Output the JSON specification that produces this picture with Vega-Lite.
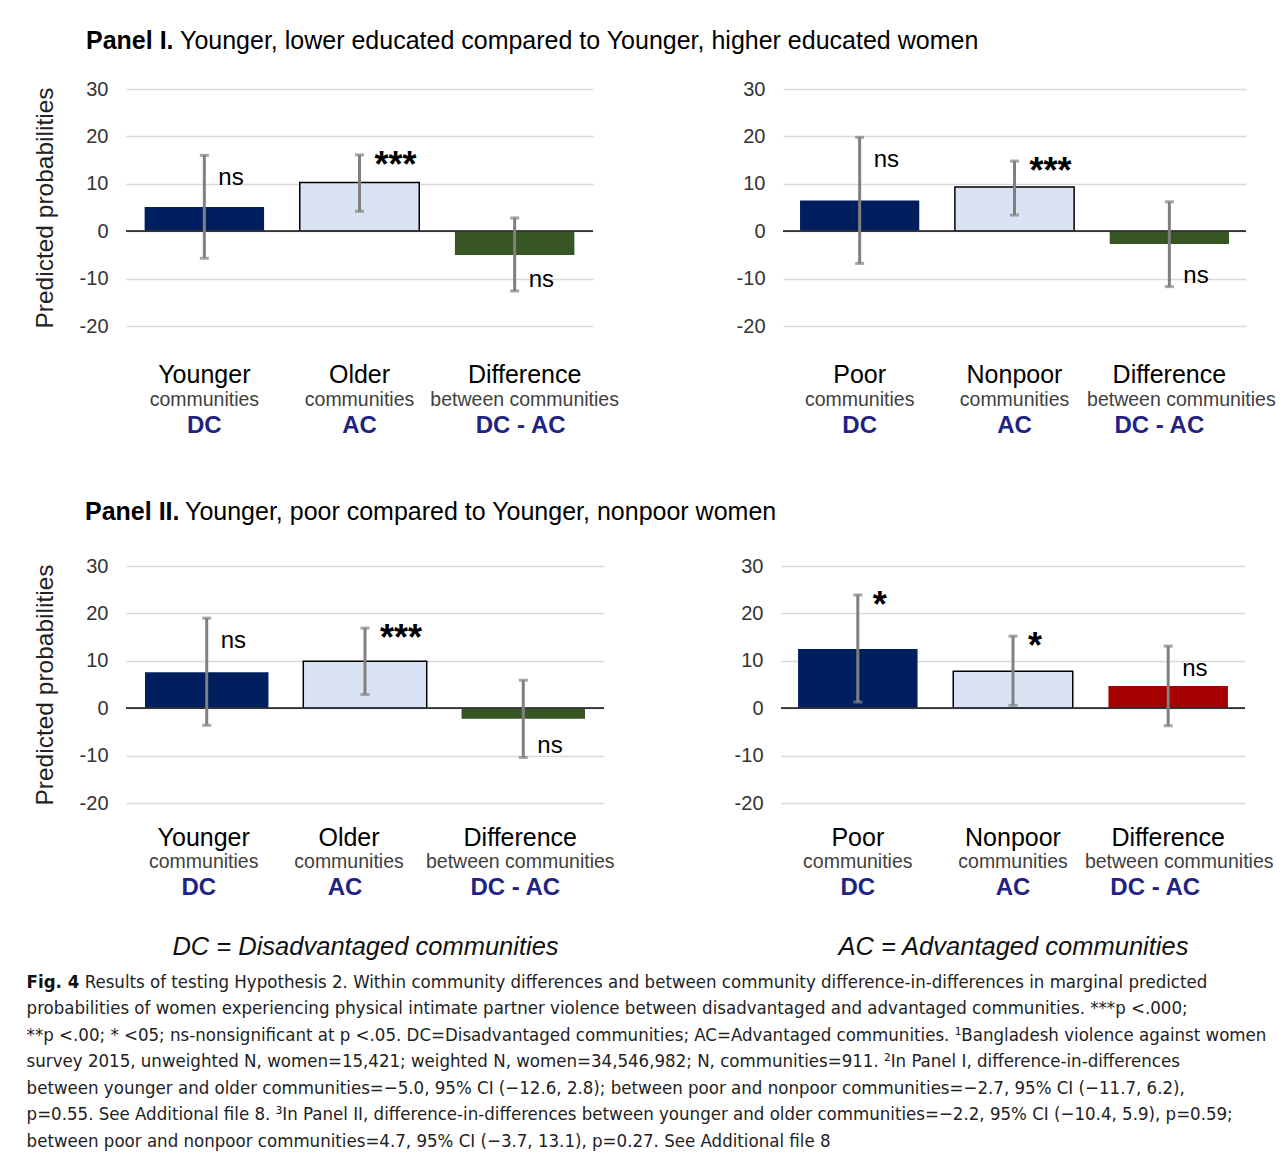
{
  "$schema": "https://vega.github.io/schema/vega-lite/v6.json",
  "padding": {"left": 26, "top": 29, "right": 5, "bottom": 5},
  "background": "#ffffff",
  "datasets": {
    "bars": [
      {"panel": "I-L", "community": "Younger", "kind": "DC", "value": 5.1, "lo": -5.7, "hi": 16.0, "sig": "ns"},
      {"panel": "I-L", "community": "Older", "kind": "AC", "value": 10.3, "lo": 4.2, "hi": 16.1, "sig": "***"},
      {"panel": "I-L", "community": "Difference", "kind": "Decrease", "value": -5.0, "lo": -12.6, "hi": 2.8, "sig": "ns"},
      {"panel": "I-R", "community": "Poor", "kind": "DC", "value": 6.5, "lo": -6.8, "hi": 19.8, "sig": "ns"},
      {"panel": "I-R", "community": "Nonpoor", "kind": "AC", "value": 9.3, "lo": 3.4, "hi": 14.8, "sig": "***"},
      {"panel": "I-R", "community": "Difference", "kind": "Decrease", "value": -2.7, "lo": -11.7, "hi": 6.2, "sig": "ns"},
      {"panel": "II-L", "community": "Younger", "kind": "DC", "value": 7.6, "lo": -3.6, "hi": 19.0, "sig": "ns"},
      {"panel": "II-L", "community": "Older", "kind": "AC", "value": 9.9, "lo": 2.9, "hi": 16.9, "sig": "***"},
      {"panel": "II-L", "community": "Difference", "kind": "Decrease", "value": -2.2, "lo": -10.4, "hi": 5.9, "sig": "ns"},
      {"panel": "II-R", "community": "Poor", "kind": "DC", "value": 12.5, "lo": 1.3, "hi": 23.9, "sig": "*"},
      {"panel": "II-R", "community": "Nonpoor", "kind": "AC", "value": 7.8, "lo": 0.6, "hi": 15.2, "sig": "*"},
      {"panel": "II-R", "community": "Difference", "kind": "Increase", "value": 4.7, "lo": -3.7, "hi": 13.1, "sig": "ns"}
    ]
  },
  "vconcat": [
    {
      "hconcat": [
        {
          "data": {"name": "bars"},
          "transform": [{"filter": "datum.panel === 'I-L'"}],
          "width": 467, "height": 237,
          "title": {"text": "Panel I.", "fontWeight": "bold", "fontSize": 25, "anchor": "start", "frame": "group", "dx": -40, "offset": 25, "color": "#000"},
          "layer": [
            {"mark": {"type": "bar", "stroke": "#000"},
             "encoding": {
               "x": {"field": "community", "type": "nominal", "sort": null, "scale": {"paddingInner": 0.23, "paddingOuter": 0.12},
                     "axis": {"orient": "bottom", "labelFontSize": 25, "labelColor": "#000", "labelPadding": 36, "labelOffset": {"condition": {"test": "datum.value === 'Difference'", "value": 10}, "value": 0}, "domain": false, "ticks": false, "title": null, "labelAngle": 0, "labelOverlap": false, "labelLimit": 400}},
               "y": {"field": "value", "type": "quantitative", "scale": {"domain": [-20, 30]},
                     "axis": {"orient": "left", "values": [-20, -10, 0, 10, 20, 30], "labelExpr": "'' + datum.value", "labelFontSize": 20, "labelColor": "#333", "labelPadding": 18, "domain": false, "ticks": false, "grid": true, "gridColor": "#d9d9d9", "gridWidth": 1.5, "title": "Predicted probabilities", "titleFontSize": 24.5, "titleFontWeight": "normal", "titleColor": "#222", "titlePadding": 22}},
               "color": {"field": "kind", "type": "nominal", "scale": {"domain": ["DC", "AC", "Decrease", "Increase"], "range": ["#001f5f", "#dae3f3", "#375623", "#a50000"]}, "legend": null},
               "strokeWidth": {"condition": {"test": "datum.kind === 'AC'", "value": 1.5}, "value": 0}
             }},
            {"mark": {"type": "rule", "color": "#333", "strokeWidth": 1.5}, "encoding": {"y": {"datum": 0, "type": "quantitative", "axis": {"title": "Predicted probabilities"}}}},
            {"mark": {"type": "rule", "color": "#808080", "strokeWidth": 3},
             "encoding": {
               "x": {"field": "community", "type": "nominal", "sort": null,
                     "axis": {"orient": "bottom", "labelExpr": "datum.value === 'Difference' ? 'between communities' : 'communities'", "labelFontSize": 19.5, "labelColor": "#404040", "labelPadding": 64, "labelOffset": {"condition": {"test": "datum.value === 'Difference'", "value": 10}, "value": 0}, "domain": false, "ticks": false, "title": null, "labelAngle": 0, "labelOverlap": false, "labelLimit": 400}},
               "y": {"field": "lo", "type": "quantitative", "axis": {"title": "Predicted probabilities"}},
               "y2": {"field": "hi"}
             }},
            {"mark": {"type": "tick", "color": "#808080", "thickness": 3, "size": 9},
             "encoding": {
               "x": {"field": "community", "type": "nominal", "sort": null,
                     "axis": {"orient": "bottom", "labelExpr": "datum.value === 'Difference' ? 'DC - AC' : (datum.value === 'Younger' || datum.value === 'Poor') ? 'DC' : 'AC'", "labelFontSize": 24, "labelFontWeight": "bold", "labelColor": "#1f2383", "labelPadding": 87, "labelOffset": {"condition": {"test": "datum.value === 'Difference'", "value": 6}, "value": 0}, "domain": false, "ticks": false, "title": null, "labelAngle": 0, "labelOverlap": false, "labelLimit": 400}},
               "y": {"field": "lo", "type": "quantitative", "axis": {"title": "Predicted probabilities"}}
             }},
            {"mark": {"type": "tick", "color": "#808080", "thickness": 3, "size": 9},
             "encoding": {"x": {"field": "community", "type": "nominal", "sort": null, "axis": null}, "y": {"field": "hi", "type": "quantitative", "axis": {"title": "Predicted probabilities"}}}},
            {"transform": [{"filter": "datum.sig === 'ns' && datum.value >= 0"}],
             "mark": {"type": "text", "align": "left", "baseline": "top", "dx": 14, "dy": 11, "fontSize": 24, "color": "#000"},
             "encoding": {"x": {"field": "community", "type": "nominal", "sort": null, "axis": null}, "y": {"field": "hi", "type": "quantitative", "axis": {"title": "Predicted probabilities"}}, "text": {"field": "sig"}}},
            {"transform": [{"filter": "datum.sig !== 'ns'"}],
             "mark": {"type": "text", "align": "left", "baseline": "top", "dx": 15, "dy": -6, "fontSize": 36, "fontWeight": "bold", "color": "#000"},
             "encoding": {"x": {"field": "community", "type": "nominal", "sort": null, "axis": null}, "y": {"field": "hi", "type": "quantitative", "axis": {"title": "Predicted probabilities"}}, "text": {"field": "sig"}}},
            {"transform": [{"filter": "datum.sig === 'ns' && datum.value < 0"}],
             "mark": {"type": "text", "align": "left", "baseline": "alphabetic", "dx": 14, "dy": -4, "fontSize": 24, "color": "#000"},
             "encoding": {"x": {"field": "community", "type": "nominal", "sort": null, "axis": null}, "y": {"field": "lo", "type": "quantitative", "axis": {"title": "Predicted probabilities"}}, "text": {"field": "sig"}}}
          ],
          "resolve": {"axis": {"x": "independent"}}
        },
        {
          "data": {"name": "bars"},
          "transform": [{"filter": "datum.panel === 'I-R'"}],
          "width": 463, "height": 237,
          "title": {"text": "Younger, lower educated compared to Younger, higher educated women", "fontWeight": "normal", "fontSize": 25, "anchor": "start", "frame": "group", "dx": -603, "offset": 25, "color": "#000"},
          "layer": [
            {"mark": {"type": "bar", "stroke": "#000"},
             "encoding": {
               "x": {"field": "community", "type": "nominal", "sort": null, "scale": {"paddingInner": 0.23, "paddingOuter": 0.11},
                     "axis": {"orient": "bottom", "labelFontSize": 25, "labelColor": "#000", "labelPadding": 36, "domain": false, "ticks": false, "title": null, "labelAngle": 0, "labelOverlap": false, "labelLimit": 400}},
               "y": {"field": "value", "type": "quantitative", "scale": {"domain": [-20, 30]},
                     "axis": {"orient": "left", "values": [-20, -10, 0, 10, 20, 30], "labelExpr": "'' + datum.value", "labelFontSize": 20, "labelColor": "#333", "labelPadding": 18, "domain": false, "ticks": false, "grid": true, "gridColor": "#d9d9d9", "gridWidth": 1.5, "title": null}},
               "color": {"field": "kind", "type": "nominal", "scale": {"domain": ["DC", "AC", "Decrease", "Increase"], "range": ["#001f5f", "#dae3f3", "#375623", "#a50000"]}, "legend": null},
               "strokeWidth": {"condition": {"test": "datum.kind === 'AC'", "value": 1.5}, "value": 0}
             }},
            {"mark": {"type": "rule", "color": "#333", "strokeWidth": 1.5}, "encoding": {"y": {"datum": 0, "type": "quantitative", "axis": {"title": null}}}},
            {"mark": {"type": "rule", "color": "#808080", "strokeWidth": 3},
             "encoding": {
               "x": {"field": "community", "type": "nominal", "sort": null,
                     "axis": {"orient": "bottom", "labelExpr": "datum.value === 'Difference' ? 'between communities' : 'communities'", "labelFontSize": 19.5, "labelColor": "#404040", "labelPadding": 64, "labelOffset": {"condition": {"test": "datum.value === 'Difference'", "value": 12}, "value": 0}, "domain": false, "ticks": false, "title": null, "labelAngle": 0, "labelOverlap": false, "labelLimit": 400}},
               "y": {"field": "lo", "type": "quantitative", "axis": {"title": null}},
               "y2": {"field": "hi"}
             }},
            {"mark": {"type": "tick", "color": "#808080", "thickness": 3, "size": 9},
             "encoding": {
               "x": {"field": "community", "type": "nominal", "sort": null,
                     "axis": {"orient": "bottom", "labelExpr": "datum.value === 'Difference' ? 'DC - AC' : (datum.value === 'Younger' || datum.value === 'Poor') ? 'DC' : 'AC'", "labelFontSize": 24, "labelFontWeight": "bold", "labelColor": "#1f2383", "labelPadding": 87, "labelOffset": {"condition": {"test": "datum.value === 'Difference'", "value": -10}, "value": 0}, "domain": false, "ticks": false, "title": null, "labelAngle": 0, "labelOverlap": false, "labelLimit": 400}},
               "y": {"field": "lo", "type": "quantitative", "axis": {"title": null}}
             }},
            {"mark": {"type": "tick", "color": "#808080", "thickness": 3, "size": 9},
             "encoding": {"x": {"field": "community", "type": "nominal", "sort": null, "axis": null}, "y": {"field": "hi", "type": "quantitative", "axis": {"title": null}}}},
            {"transform": [{"filter": "datum.sig === 'ns' && datum.value >= 0"}],
             "mark": {"type": "text", "align": "left", "baseline": "top", "dx": 14, "dy": 11, "fontSize": 24, "color": "#000"},
             "encoding": {"x": {"field": "community", "type": "nominal", "sort": null, "axis": null}, "y": {"field": "hi", "type": "quantitative", "axis": {"title": null}}, "text": {"field": "sig"}}},
            {"transform": [{"filter": "datum.sig !== 'ns'"}],
             "mark": {"type": "text", "align": "left", "baseline": "top", "dx": 15, "dy": -6, "fontSize": 36, "fontWeight": "bold", "color": "#000"},
             "encoding": {"x": {"field": "community", "type": "nominal", "sort": null, "axis": null}, "y": {"field": "hi", "type": "quantitative", "axis": {"title": null}}, "text": {"field": "sig"}}},
            {"transform": [{"filter": "datum.sig === 'ns' && datum.value < 0"}],
             "mark": {"type": "text", "align": "left", "baseline": "alphabetic", "dx": 14, "dy": -4, "fontSize": 24, "color": "#000"},
             "encoding": {"x": {"field": "community", "type": "nominal", "sort": null, "axis": null}, "y": {"field": "lo", "type": "quantitative", "axis": {"title": null}}, "text": {"field": "sig"}}}
          ],
          "resolve": {"axis": {"x": "independent"}}
        }
      ],
      "spacing": 190,
      "bounds": "flush"
    },
    {
      "hconcat": [
        {
          "data": {"name": "bars"},
          "transform": [{"filter": "datum.panel === 'II-L'"}],
          "width": 478, "height": 237,
          "title": {"text": "Panel II.", "fontWeight": "bold", "fontSize": 25, "anchor": "start", "frame": "group", "dx": -41, "offset": 31, "color": "#000"},
          "layer": [
            {"mark": {"type": "bar", "stroke": "#000"},
             "encoding": {
               "x": {"field": "community", "type": "nominal", "sort": null, "scale": {"paddingInner": 0.22, "paddingOuter": 0.12},
                     "axis": {"orient": "bottom", "labelFontSize": 25, "labelColor": "#000", "labelPadding": 22, "labelOffset": {"condition": {"test": "datum.value === 'Older'", "value": -16}, "value": -3}, "domain": false, "ticks": false, "title": null, "labelAngle": 0, "labelOverlap": false, "labelLimit": 400}},
               "y": {"field": "value", "type": "quantitative", "scale": {"domain": [-20, 30]},
                     "axis": {"orient": "left", "values": [-20, -10, 0, 10, 20, 30], "labelExpr": "'' + datum.value", "labelFontSize": 20, "labelColor": "#333", "labelPadding": 18, "domain": false, "ticks": false, "grid": true, "gridColor": "#d9d9d9", "gridWidth": 1.5, "title": "Predicted probabilities", "titleFontSize": 24.5, "titleFontWeight": "normal", "titleColor": "#222", "titlePadding": 22}},
               "color": {"field": "kind", "type": "nominal", "scale": {"domain": ["DC", "AC", "Decrease", "Increase"], "range": ["#001f5f", "#dae3f3", "#375623", "#a50000"]}, "legend": null},
               "strokeWidth": {"condition": {"test": "datum.kind === 'AC'", "value": 1.5}, "value": 0}
             }},
            {"mark": {"type": "rule", "color": "#333", "strokeWidth": 1.5}, "encoding": {"y": {"datum": 0, "type": "quantitative", "axis": {"title": "Predicted probabilities"}}}},
            {"mark": {"type": "rule", "color": "#808080", "strokeWidth": 3},
             "encoding": {
               "x": {"field": "community", "type": "nominal", "sort": null,
                     "axis": {"orient": "bottom", "labelExpr": "datum.value === 'Difference' ? 'between communities' : 'communities'", "labelFontSize": 19.5, "labelColor": "#404040", "labelPadding": 49, "labelOffset": {"condition": {"test": "datum.value === 'Older'", "value": -16}, "value": -3}, "domain": false, "ticks": false, "title": null, "labelAngle": 0, "labelOverlap": false, "labelLimit": 400}},
               "y": {"field": "lo", "type": "quantitative", "axis": {"title": "Predicted probabilities"}},
               "y2": {"field": "hi"}
             }},
            {"mark": {"type": "tick", "color": "#808080", "thickness": 3, "size": 9},
             "encoding": {
               "x": {"field": "community", "type": "nominal", "sort": null,
                     "axis": {"orient": "bottom", "labelExpr": "datum.value === 'Difference' ? 'DC - AC' : (datum.value === 'Younger' || datum.value === 'Poor') ? 'DC' : 'AC'", "labelFontSize": 24, "labelFontWeight": "bold", "labelColor": "#1f2383", "labelPadding": 72, "labelOffset": {"condition": {"test": "datum.value === 'Older'", "value": -20}, "value": -8}, "domain": false, "ticks": false, "labelAngle": 0, "labelOverlap": false, "labelLimit": 400,
                              "title": "DC = Disadvantaged communities", "titleFontSize": 25.5, "titleFontStyle": "italic", "titleFontWeight": "normal", "titleColor": "#111", "titlePadding": 35}},
               "y": {"field": "lo", "type": "quantitative", "axis": {"title": "Predicted probabilities"}}
             }},
            {"mark": {"type": "tick", "color": "#808080", "thickness": 3, "size": 9},
             "encoding": {"x": {"field": "community", "type": "nominal", "sort": null, "axis": null}, "y": {"field": "hi", "type": "quantitative", "axis": {"title": "Predicted probabilities"}}}},
            {"transform": [{"filter": "datum.sig === 'ns' && datum.value >= 0"}],
             "mark": {"type": "text", "align": "left", "baseline": "top", "dx": 14, "dy": 11, "fontSize": 24, "color": "#000"},
             "encoding": {"x": {"field": "community", "type": "nominal", "sort": null, "axis": null}, "y": {"field": "hi", "type": "quantitative", "axis": {"title": "Predicted probabilities"}}, "text": {"field": "sig"}}},
            {"transform": [{"filter": "datum.sig !== 'ns'"}],
             "mark": {"type": "text", "align": "left", "baseline": "top", "dx": 15, "dy": -6, "fontSize": 36, "fontWeight": "bold", "color": "#000"},
             "encoding": {"x": {"field": "community", "type": "nominal", "sort": null, "axis": null}, "y": {"field": "hi", "type": "quantitative", "axis": {"title": "Predicted probabilities"}}, "text": {"field": "sig"}}},
            {"transform": [{"filter": "datum.sig === 'ns' && datum.value < 0"}],
             "mark": {"type": "text", "align": "left", "baseline": "alphabetic", "dx": 14, "dy": -4, "fontSize": 24, "color": "#000"},
             "encoding": {"x": {"field": "community", "type": "nominal", "sort": null, "axis": null}, "y": {"field": "lo", "type": "quantitative", "axis": {"title": "Predicted probabilities"}}, "text": {"field": "sig"}}}
          ],
          "resolve": {"axis": {"x": "independent"}}
        },
        {
          "data": {"name": "bars"},
          "transform": [{"filter": "datum.panel === 'II-R'"}],
          "width": 464, "height": 237,
          "title": {"text": "Younger, poor compared to Younger, nonpoor women", "fontWeight": "normal", "fontSize": 25, "anchor": "start", "frame": "group", "dx": -596, "offset": 31, "color": "#000"},
          "layer": [
            {"mark": {"type": "bar", "stroke": "#000"},
             "encoding": {
               "x": {"field": "community", "type": "nominal", "sort": null, "scale": {"paddingInner": 0.23, "paddingOuter": 0.11},
                     "axis": {"orient": "bottom", "labelFontSize": 25, "labelColor": "#000", "labelPadding": 22, "domain": false, "ticks": false, "title": null, "labelAngle": 0, "labelOverlap": false, "labelLimit": 400}},
               "y": {"field": "value", "type": "quantitative", "scale": {"domain": [-20, 30]},
                     "axis": {"orient": "left", "values": [-20, -10, 0, 10, 20, 30], "labelExpr": "'' + datum.value", "labelFontSize": 20, "labelColor": "#333", "labelPadding": 18, "domain": false, "ticks": false, "grid": true, "gridColor": "#d9d9d9", "gridWidth": 1.5, "title": null}},
               "color": {"field": "kind", "type": "nominal", "scale": {"domain": ["DC", "AC", "Decrease", "Increase"], "range": ["#001f5f", "#dae3f3", "#375623", "#a50000"]}, "legend": null},
               "strokeWidth": {"condition": {"test": "datum.kind === 'AC'", "value": 1.5}, "value": 0}
             }},
            {"mark": {"type": "rule", "color": "#333", "strokeWidth": 1.5}, "encoding": {"y": {"datum": 0, "type": "quantitative", "axis": {"title": null}}}},
            {"mark": {"type": "rule", "color": "#808080", "strokeWidth": 3},
             "encoding": {
               "x": {"field": "community", "type": "nominal", "sort": null,
                     "axis": {"orient": "bottom", "labelExpr": "datum.value === 'Difference' ? 'between communities' : 'communities'", "labelFontSize": 19.5, "labelColor": "#404040", "labelPadding": 49, "labelOffset": {"condition": {"test": "datum.value === 'Difference'", "value": 11}, "value": 0}, "domain": false, "ticks": false, "title": null, "labelAngle": 0, "labelOverlap": false, "labelLimit": 400}},
               "y": {"field": "lo", "type": "quantitative", "axis": {"title": null}},
               "y2": {"field": "hi"}
             }},
            {"mark": {"type": "tick", "color": "#808080", "thickness": 3, "size": 9},
             "encoding": {
               "x": {"field": "community", "type": "nominal", "sort": null,
                     "axis": {"orient": "bottom", "labelExpr": "datum.value === 'Difference' ? 'DC - AC' : (datum.value === 'Younger' || datum.value === 'Poor') ? 'DC' : 'AC'", "labelFontSize": 24, "labelFontWeight": "bold", "labelColor": "#1f2383", "labelPadding": 72, "labelOffset": {"condition": {"test": "datum.value === 'Difference'", "value": -13}, "value": 0}, "domain": false, "ticks": false, "labelAngle": 0, "labelOverlap": false, "labelLimit": 400,
                              "title": "AC = Advantaged communities", "titleFontSize": 25.5, "titleFontStyle": "italic", "titleFontWeight": "normal", "titleColor": "#111", "titlePadding": 35}},
               "y": {"field": "lo", "type": "quantitative", "axis": {"title": null}}
             }},
            {"mark": {"type": "tick", "color": "#808080", "thickness": 3, "size": 9},
             "encoding": {"x": {"field": "community", "type": "nominal", "sort": null, "axis": null}, "y": {"field": "hi", "type": "quantitative", "axis": {"title": null}}}},
            {"transform": [{"filter": "datum.sig === 'ns' && datum.value >= 0"}],
             "mark": {"type": "text", "align": "left", "baseline": "top", "dx": 14, "dy": 11, "fontSize": 24, "color": "#000"},
             "encoding": {"x": {"field": "community", "type": "nominal", "sort": null, "axis": null}, "y": {"field": "hi", "type": "quantitative", "axis": {"title": null}}, "text": {"field": "sig"}}},
            {"transform": [{"filter": "datum.sig !== 'ns'"}],
             "mark": {"type": "text", "align": "left", "baseline": "top", "dx": 15, "dy": -6, "fontSize": 36, "fontWeight": "bold", "color": "#000"},
             "encoding": {"x": {"field": "community", "type": "nominal", "sort": null, "axis": null}, "y": {"field": "hi", "type": "quantitative", "axis": {"title": null}}, "text": {"field": "sig"}}},
            {"transform": [{"filter": "datum.sig === 'ns' && datum.value < 0"}],
             "mark": {"type": "text", "align": "left", "baseline": "alphabetic", "dx": 14, "dy": -4, "fontSize": 24, "color": "#000"},
             "encoding": {"x": {"field": "community", "type": "nominal", "sort": null, "axis": null}, "y": {"field": "lo", "type": "quantitative", "axis": {"title": null}}, "text": {"field": "sig"}}}
          ],
          "resolve": {"axis": {"x": "independent"}}
        }
      ],
      "spacing": 177,
      "bounds": "flush"
    }
  ],
  "spacing": 63,
  "title": {
    "text": "Fig. 4",
    "subtitle": [
      "\u200b\u00a0\u00a0\u00a0\u00a0\u00a0\u00a0\u00a0\u00a0\u00a0\u00a0\u00a0Results of testing Hypothesis 2. Within community differences and between community difference-in-differences in marginal predicted",
      "probabilities of women experiencing physical intimate partner violence between disadvantaged and advantaged communities. ***p <.000;",
      "**p <.00; * <05; ns-nonsignificant at p <.05. DC=Disadvantaged communities; AC=Advantaged communities. ¹Bangladesh violence against women",
      "survey 2015, unweighted N, women=15,421; weighted N, women=34,546,982; N, communities=911. ²In Panel I, difference-in-differences",
      "between younger and older communities=−5.0, 95% CI (−12.6, 2.8); between poor and nonpoor communities=−2.7, 95% CI (−11.7, 6.2),",
      "p=0.55. See Additional file 8. ³In Panel II, difference-in-differences between younger and older communities=−2.2, 95% CI (−10.4, 5.9), p=0.59;",
      "between poor and nonpoor communities=4.7, 95% CI (−3.7, 13.1), p=0.27. See Additional file 8"
    ],
    "orient": "bottom",
    "anchor": "start",
    "frame": "bounds",
    "font": "DejaVu Sans Condensed, Liberation Sans",
    "fontSize": 18.5,
    "fontWeight": "bold",
    "color": "#111",
    "subtitleFont": "DejaVu Sans Condensed, Liberation Sans",
    "subtitleFontSize": 18.5,
    "subtitleColor": "#222",
    "subtitleLineHeight": 26.5,
    "subtitlePadding": -18.5,
    "offset": 13,
    "dx": -5.5
  },
  "config": {
    "font": "Liberation Sans",
    "view": {"stroke": null}
  }
}
